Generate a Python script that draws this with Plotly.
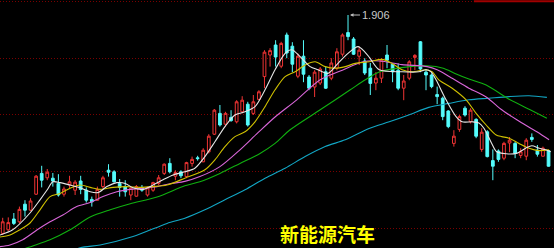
import plotly.graph_objects as go

# ---- candle data (day index 0..98) ----
opens = [1.360,1.369,1.396,1.389,1.433,1.418,1.458,1.510,1.499,1.498,
         1.485,1.458,1.481,1.468,1.491,1.468,1.445,1.443,1.477,1.518,
         1.514,1.485,1.477,1.456,1.453,1.475,1.456,1.468,1.485,1.510,
         1.535,1.503,1.514,1.502,1.535,1.549,1.539,1.564,1.608,1.660,
         1.633,1.650,1.639,1.664,1.683,1.660,1.695,1.752,1.806,1.831,
         1.778,1.856,1.828,1.753,1.803,1.751,1.726,1.736,1.764,1.748,
         1.773,1.808,1.862,1.846,1.803,1.791,1.773,1.736,1.748,1.806,
         1.783,1.768,1.723,1.748,1.800,1.839,1.763,1.756,1.707,1.698,
         1.666,1.585,1.620,1.673,1.639,1.645,1.570,1.614,1.542,1.566,
         1.548,1.586,1.585,1.555,1.553,1.600,1.568,1.553,1.567]
highs = [1.399,1.400,1.411,1.427,1.443,1.448,1.506,1.529,1.521,1.511,
         1.508,1.477,1.504,1.493,1.504,1.475,1.452,1.477,1.504,1.533,
         1.518,1.496,1.493,1.477,1.481,1.481,1.477,1.489,1.506,1.535,
         1.548,1.518,1.518,1.539,1.552,1.554,1.573,1.608,1.671,1.681,
         1.664,1.668,1.693,1.703,1.689,1.706,1.718,1.818,1.823,1.843,
         1.839,1.862,1.838,1.810,1.843,1.756,1.768,1.776,1.777,1.798,
         1.823,1.860,1.906,1.851,1.827,1.798,1.786,1.763,1.798,1.831,
         1.786,1.785,1.756,1.793,1.808,1.841,1.771,1.760,1.727,1.702,
         1.668,1.618,1.656,1.678,1.673,1.648,1.623,1.618,1.570,1.570,
         1.589,1.601,1.589,1.573,1.598,1.610,1.581,1.577,1.568]
lows = [1.356,1.366,1.381,1.385,1.402,1.416,1.456,1.475,1.493,1.477,
        1.452,1.452,1.473,1.456,1.458,1.437,1.427,1.442,1.473,1.502,
        1.487,1.452,1.452,1.443,1.452,1.464,1.452,1.464,1.481,1.506,
        1.510,1.493,1.498,1.498,1.527,1.542,1.538,1.560,1.606,1.627,
        1.627,1.639,1.635,1.660,1.627,1.656,1.693,1.723,1.777,1.777,
        1.773,1.798,1.763,1.748,1.738,1.718,1.701,1.731,1.721,1.743,
        1.768,1.802,1.843,1.806,1.781,1.756,1.706,1.718,1.736,1.773,
        1.738,1.718,1.693,1.743,1.768,1.763,1.718,1.723,1.683,1.643,
        1.623,1.577,1.614,1.652,1.635,1.598,1.564,1.550,1.493,1.539,
        1.543,1.563,1.548,1.548,1.543,1.589,1.552,1.552,1.527]
closes = [1.389,1.387,1.385,1.420,1.418,1.441,1.503,1.493,1.513,1.491,
          1.456,1.471,1.489,1.488,1.470,1.443,1.439,1.470,1.499,1.513,
          1.489,1.475,1.464,1.473,1.477,1.468,1.474,1.487,1.499,1.533,
          1.514,1.512,1.504,1.537,1.545,1.547,1.568,1.603,1.668,1.631,
          1.660,1.642,1.689,1.693,1.631,1.689,1.714,1.813,1.817,1.801,
          1.835,1.811,1.783,1.803,1.758,1.723,1.763,1.771,1.723,1.786,
          1.814,1.856,1.852,1.808,1.818,1.761,1.735,1.748,1.793,1.793,
          1.764,1.723,1.741,1.789,1.805,1.771,1.756,1.727,1.702,1.652,
          1.627,1.603,1.652,1.656,1.668,1.603,1.613,1.552,1.528,1.545,
          1.585,1.593,1.560,1.564,1.593,1.595,1.558,1.573,1.528]
days = list(range(len(closes)))

# ---- moving averages (day index, price) ----
ma5_x = [-0.5,1.8,4.9,6.7,8.0,9.0,10.3,12.1,13.9,15.7,17.1,18.7,20.5,22.0,23.4,25.2,27.0,28.8,30.6,32.7,
         34.5,36.3,38.1,39.9,41.7,43.5,45.3,47.1,48.9,50.7,51.9,53.4,55.2,56.6,58.4,60.2,62.0,63.8,65.0,65.9,
         67.6,71.7,74.7,76.0,76.9,77.8,79.6,81.4,82.5,84.3,85.5,86.4,87.8,88.7,90.4,92.2,93.9,95.0,96.3,97.5,98.4]
ma5_y = [1.356,1.369,1.411,1.444,1.469,1.489,1.487,1.481,1.474,1.464,1.462,1.477,1.487,1.485,1.474,1.470,1.481,1.494,1.506,1.514,
         1.523,1.552,1.589,1.627,1.656,1.664,1.677,1.719,1.769,1.810,1.819,1.802,1.777,1.769,1.760,1.785,1.810,1.827,1.814,1.799,
         1.769,1.764,1.764,1.769,1.764,1.744,1.694,1.652,1.639,1.639,1.636,1.623,1.585,1.564,1.559,1.560,1.573,1.579,1.573,1.569,1.564]

ma10_x = [-0.5,1.3,3.1,4.9,6.7,8.5,10.3,12.1,13.9,15.7,17.5,19.8,22.3,24.6,27.0,29.5,32.7,36.3,38.1,39.9,
          41.7,43.5,45.3,47.1,48.9,50.7,52.5,54.3,56.1,57.9,59.7,61.5,63.3,65.8,68.1,69.9,71.7,73.5,76.0,77.1,
          78.3,80.7,83.2,85.0,86.8,88.6,89.6,90.9,92.7,94.5,96.3,98.1]
ma10_y = [1.351,1.356,1.369,1.386,1.419,1.452,1.460,1.473,1.481,1.475,1.470,1.475,1.477,1.475,1.477,1.481,1.498,1.519,1.544,1.577,
          1.602,1.614,1.639,1.677,1.719,1.752,1.764,1.781,1.789,1.777,1.773,1.777,1.785,1.789,1.795,1.785,1.769,1.764,1.769,1.764,
          1.744,1.723,1.694,1.660,1.631,1.606,1.602,1.598,1.585,1.573,1.567,1.569]

ma20_x = [-0.5,1.3,3.6,6.2,8.5,10.8,13.3,15.7,18.0,20.5,22.9,25.2,27.7,30.0,32.7,35.4,39.0,42.6,45.7,48.9,
          52.8,57.0,60.6,64.7,67.7,71.7,76.2,78.0,80.3,83.7,86.8,89.6,92.3,95.9,98.1]
ma20_y = [1.327,1.331,1.344,1.369,1.389,1.406,1.427,1.437,1.452,1.464,1.470,1.473,1.477,1.484,1.490,1.502,1.527,1.569,1.610,1.651,
          1.694,1.744,1.766,1.789,1.791,1.782,1.777,1.769,1.751,1.723,1.701,1.669,1.644,1.614,1.594]

ma30_x = [0.0,4.4,8.5,12.1,15.7,19.3,22.9,27.7,32.7,35.4,39.0,42.6,46.2,48.9,51.6,57.0,62.4,65.1,67.7,73.1,
          76.2,79.1,81.2,83.7,86.8,91.1,94.7,97.7]
ma30_y = [1.300,1.324,1.344,1.369,1.401,1.419,1.434,1.451,1.479,1.489,1.510,1.535,1.560,1.585,1.619,1.669,1.719,1.744,1.764,1.777,
          1.779,1.773,1.760,1.746,1.731,1.694,1.669,1.648]

ma60_x = [10.3,13.9,17.5,23.4,29.5,32.7,36.3,39.9,43.5,47.1,50.7,54.3,57.9,61.5,65.9,69.4,72.9,76.5,80.1,83.7,
          87.3,90.9,94.5,97.7]
ma60_y = [1.300,1.324,1.331,1.352,1.385,1.398,1.419,1.444,1.469,1.498,1.523,1.552,1.577,1.594,1.623,1.639,1.656,1.675,1.685,1.694,
          1.698,1.702,1.704,1.700]

# ---- chart frame ----
grid_levels = [1.3735, 1.516, 1.6585, 1.7985, 1.9395]
y_range = [1.3235, 1.9435]
x_range = [-0.485, 98.98]
peak_label = "1.906"
title_text = "新能源汽车"

RED = "#f03434"
CYAN = "#54fcfc"

fig = go.Figure()
fig.add_trace(go.Candlestick(
    x=days, open=opens, high=highs, low=lows, close=closes,
    increasing=dict(line=dict(color=RED, width=1), fillcolor="#000000"),
    decreasing=dict(line=dict(color=CYAN, width=1), fillcolor=CYAN),
    whiskerwidth=0, hoverinfo="skip", showlegend=False,
))

ma_specs = [
    (ma60_x, ma60_y, "#12a6c4"),
    (ma30_x, ma30_y, "#10b010"),
    (ma20_x, ma20_y, "#d866d8"),
    (ma10_x, ma10_y, "#cfc000"),
    (ma5_x, ma5_y, "#e6e6e6"),
]
for xs, ys, col in ma_specs:
    fig.add_trace(go.Scatter(x=xs, y=ys, mode="lines",
                             line=dict(color=col, width=1.1, shape="spline", smoothing=0.8),
                             hoverinfo="skip", showlegend=False))

peak_i = highs.index(max(highs))
fig.add_annotation(x=days[peak_i], y=highs[peak_i], text=peak_label,
                   showarrow=True, ax=12, ay=0, xanchor="left",
                   arrowhead=2, arrowsize=0.7, arrowwidth=1, arrowcolor="#bdbdbd",
                   standoff=2, font=dict(family="Arial, Liberation Sans", size=11, color="#c8c8c8"))

fig.add_annotation(x=0.592, y=0.0, xref="paper", yref="paper", text="<b>" + title_text + "</b>",
                   showarrow=False, xanchor="center", yanchor="bottom", borderpad=0,
                   font=dict(family="Noto Sans CJK SC", size=19, color="#ffff00"))

fig.add_shape(type="line", xref="x", yref="y", x0=84.6, x1=99.5, y0=1.9405, y1=1.9405,
              line=dict(color="#a00000", width=2))

fig.update_layout(
    width=554, height=248, margin=dict(l=0, r=0, t=0, b=0),
    paper_bgcolor="#000000", plot_bgcolor="#000000",
    xaxis=dict(range=x_range, visible=False, rangeslider=dict(visible=False), fixedrange=True),
    yaxis=dict(range=y_range, showticklabels=False, ticks="", zeroline=False,
               tickvals=grid_levels, showgrid=True, gridcolor="#7a0000", gridwidth=1,
               griddash="1px,2px", fixedrange=True),
    showlegend=False,
)

fig.write_html("out.html", config={"displayModeBar": False})
